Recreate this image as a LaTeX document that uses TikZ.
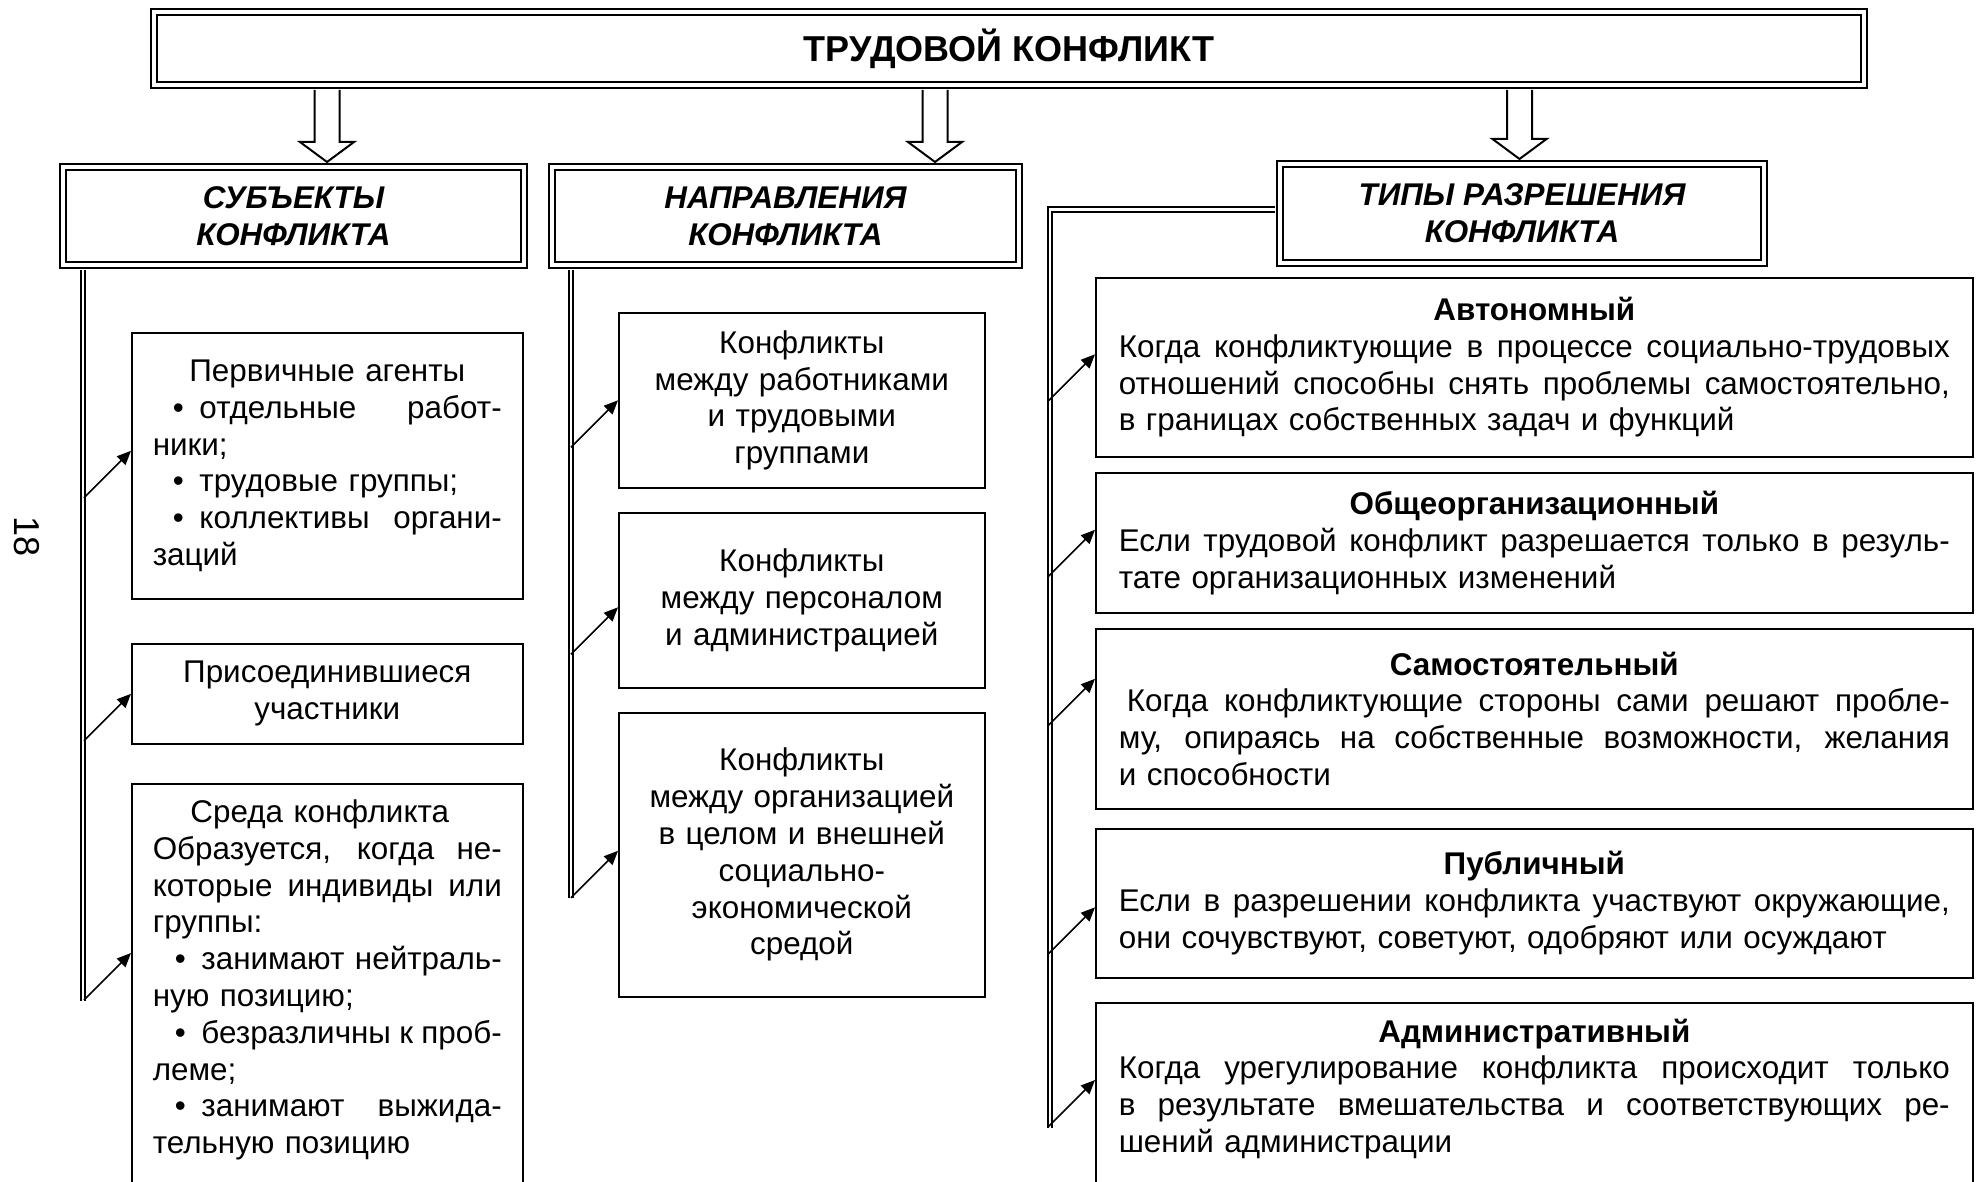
\documentclass[tikz,border=0pt]{standalone}
\usepackage{fontspec}
\setmainfont{Liberation Sans}
\usetikzlibrary{arrows.meta,calc}
\newcommand{\fullline}[1]{\makebox[\hsize][s]{\spaceskip=0pt\relax\xspaceskip=0pt\relax#1}}
\newcommand{\midline}[1]{\makebox[\hsize]{#1}}

\begin{document}
\begin{tikzpicture}[x=0.5pt, y=-0.5pt,
  head/.style={draw, line width=1pt, double, double distance=2pt, anchor=north west, align=center,
    font=\fontsize{15.7}{18.4}\selectfont\bfseries\itshape},
  item/.style={draw, line width=0.8pt, anchor=north west, inner xsep=10.5pt, inner ysep=8pt,
    font=\fontsize{15.7}{18.4}\selectfont},
  lead/.style={line width=0.95pt, double, double distance=1.4pt},
  pointer/.style={-{Triangle[length=7pt,width=6pt]}, line width=0.8pt},
  blockarrow/.style={line width=1pt, to path={let \p1=(\tikztostart), \p2=(\tikztotarget) in
    (\x1-6.25pt,\y1) -- (\x1-6.25pt,\y2+10pt) -- (\x1-13.5pt,\y2+10pt) -- (\x1,\y2)
    -- (\x1+13.5pt,\y2+10pt) -- (\x1+6.25pt,\y2+10pt) -- (\x1+6.25pt,\y1)}}]
\useasboundingbox (0,0) rectangle (1981,1182);
\clip (0,0) rectangle (1981,1182);

\node[rotate=-90, font=\fontsize{18}{18}\selectfont] (page) at (27,537) {18};

% headings
\node[head, minimum width=855pt, minimum height=36.5pt, font=\fontsize{18}{21}\selectfont\bfseries] (title) at (153,11) {ТРУДОВОЙ КОНФЛИКТ};
\node[head, minimum width=230.5pt, minimum height=49pt] (subj) at (62,166) {СУБЪЕКТЫ\\КОНФЛИКТА};
\node[head, minimum width=233.5pt, minimum height=49pt] (dir) at (551,166) {НАПРАВЛЕНИЯ\\КОНФЛИКТА};
\node[head, minimum width=242pt, minimum height=49.5pt] (res) at (1279,163) {ТИПЫ РАЗРЕШЕНИЯ\\КОНФЛИКТА};

\coordinate (a1) at ($(subj.north)+(33.5,-4)$);
\coordinate (a2) at ($(dir.north)+(149.5,-4)$);
\coordinate (a3) at ($(res.north)+(-2.5,-4)$);
\draw[blockarrow] ($(title.south -| a1)+(0,4)$) to (a1);
\draw[blockarrow] ($(title.south -| a2)+(0,4)$) to (a2);
\draw[blockarrow] ($(title.south -| a3)+(0,4)$) to (a3);

% subjects
\node[item, text width=174.5pt, minimum height=133pt, align=left] (p1) at (131,332)
  {\midline{Первичные агенты}\\
   \fullline{\hspace*{10pt}•\enspace отдельные работ-}\\
   ники;\\
   \hspace*{10pt}•\enspace трудовые группы;\\
   \fullline{\hspace*{10pt}•\enspace коллективы органи-}\\
   заций};
\node[item, text width=174.5pt, minimum height=50pt, align=center] (p2) at (131,643)
  {Присоединившиеся\\участники};
\node[item, text width=174.5pt, align=left] (p3) at (131,783)
  {\midline{Среда конфликта\hspace*{7.5pt}}\\
   \fullline{Образуется, когда не-}\\
   \fullline{которые индивиды или}\\
   группы:\\
   \fullline{\hspace*{11pt}•\enspace занимают нейтраль-}\\
   ную позицию;\\
   \fullline{\hspace*{11pt}•\enspace безразличны к проб-}\\
   леме;\\
   \fullline{\hspace*{11pt}•\enspace занимают выжида-}\\
   тельную позицию\rule[-30pt]{0pt}{0pt}};

% directions
\node[item, text width=162pt, minimum width=183pt, minimum height=87.5pt, align=center] (m1) at (618,312)
  {Конфликты\\между работниками\\и трудовыми\\группами};
\node[item, text width=162pt, minimum width=183pt, minimum height=87.5pt, align=center] (m2) at (618,512)
  {Конфликты\\между персоналом\\и администрацией};
\node[item, text width=162pt, minimum width=183pt, minimum height=142pt, align=center] (m3) at (618,712)
  {Конфликты\\между организацией\\в целом и внешней\\социально-\\экономической\\средой};

% resolution types
\node[item, text width=415.5pt, inner xsep=11.5pt, minimum height=89.5pt, align=left] (r1) at (1095,277)
  {\midline{\bfseries Автономный}\\
   \fullline{Когда конфликтующие в процессе социально-трудовых}\\
   \fullline{отношений способны снять проблемы самостоятельно,}\\
   в границах собственных задач и функций};
\node[item, text width=415.5pt, inner xsep=11.5pt, minimum height=70pt, align=left] (r2) at (1095,472)
  {\midline{\bfseries Общеорганизационный}\\
   \fullline{Если трудовой конфликт разрешается только в резуль-}\\
   тате организационных изменений};
\node[item, text width=415.5pt, inner xsep=11.5pt, minimum height=90pt, align=left] (r3) at (1095,628)
  {\midline{\bfseries Самостоятельный}\\
   \fullline{\hspace*{4pt}Когда конфликтующие стороны сами решают пробле-}\\
   \fullline{му, опираясь на собственные возможности, желания}\\
   и способности};
\node[item, text width=415.5pt, inner xsep=11.5pt, minimum height=74.5pt, align=left] (r4) at (1095,828)
  {\midline{\bfseries Публичный}\\
   \fullline{Если в разрешении конфликта участвуют окружающие,}\\
   они сочувствуют, советуют, одобряют или осуждают};
\node[item, text width=415.5pt, inner xsep=11.5pt, align=left] (r5) at (1095,1002)
  {\midline{\bfseries Административный}\\
   \fullline{Когда урегулирование конфликта происходит только}\\
   \fullline{в результате вмешательства и соответствующих ре-}\\
   шений администрации\rule[-30pt]{0pt}{0pt}};

% leads
\coordinate (e1) at (83,1001);
\coordinate (e2) at (571,898);
\coordinate (e3) at (1050,1128);
\draw[lead] ($(subj.south -| e1)+(0,4)$) -- (e1);
\draw[lead] ($(dir.south -| e2)+(0,4)$) -- (e2);
\draw[lead] ($(res.west)+(-4,-4)$) -| (e3);

\draw[pointer] ($(p1.west)+(-47,32)$) -- ($(p1.west)+(0,-15)$);
\draw[pointer] ($(p2.west)+(-47,47)$) -- (p2.west);
\draw[pointer] ($(p3.north west)+(-47,217)$) -- ($(p3.north west)+(0,170)$);
\draw[pointer] ($(m1.west)+(-47,47)$) -- (m1.west);
\draw[pointer] ($(m2.west)+(-47,54)$) -- ($(m2.west)+(0,7)$);
\draw[pointer] ($(m3.west)+(-47,43)$) -- ($(m3.west)+(0,-4)$);
\draw[pointer] ($(r1.west)+(-47,34)$) -- ($(r1.west)+(0,-13)$);
\draw[pointer] ($(r2.west)+(-47,34)$) -- ($(r2.west)+(0,-13)$);
\draw[pointer] ($(r3.west)+(-47,7)$) -- ($(r3.west)+(0,-40)$);
\draw[pointer] ($(r4.west)+(-47,51)$) -- ($(r4.west)+(0,4)$);
\draw[pointer] ($(r5.north west)+(-47,125)$) -- ($(r5.north west)+(0,78)$);
\end{tikzpicture}
\end{document}
